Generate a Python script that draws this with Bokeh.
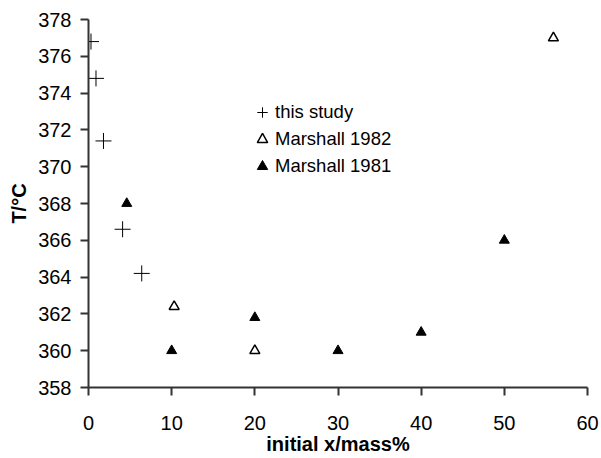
from bokeh.plotting import figure
from bokeh.models import Range1d, FixedTicker, Legend, LegendItem
from bokeh.embed import file_html
from bokeh.resources import INLINE

# data
study_x = [0.3, 0.9, 1.8, 4.1, 6.4]
study_y = [376.8, 374.8, 371.4, 366.6, 364.2]
m1982_x = [10.3, 20.0, 55.9]
m1982_y = [362.4, 360.0, 377.0]
m1981_x = [4.6, 10.0, 20.0, 30.0, 40.0, 50.0]
m1981_y = [368.0, 360.0, 361.8, 360.0, 361.0, 366.0]
x_ticks = [0, 10, 20, 30, 40, 50, 60]
y_ticks = [358, 360, 362, 364, 366, 368, 370, 372, 374, 376, 378]

FONT = "Liberation Sans"

p = figure(width=601, height=458, output_backend="svg", toolbar_location=None,
           x_range=Range1d(0, 60), y_range=Range1d(358, 378),
           min_border_left=88, min_border_right=14, min_border_top=19, min_border_bottom=71)
p.outline_line_color = None
p.background_fill_color = "white"
p.xgrid.visible = False
p.ygrid.visible = False

r_study = p.scatter(study_x, study_y, marker="cross", size=16, line_color="black", line_width=1)
r_82 = p.scatter(m1982_x, m1982_y, marker="triangle", size=10, fill_color="white",
                 line_color="black", line_width=1.5)
r_81 = p.scatter(m1981_x, m1981_y, marker="triangle", size=10, fill_color="black",
                 line_color="black", line_width=1)

for ax in (p.xaxis[0], p.yaxis[0]):
    ax.axis_line_color = "#333333"
    ax.axis_line_width = 2
    ax.major_tick_line_color = "#333333"
    ax.major_tick_line_width = 2
    ax.major_tick_out = 8
    ax.major_tick_in = 0
    ax.minor_tick_line_color = None
    ax.major_label_text_font = FONT
    ax.major_label_text_font_size = "20px"
    ax.major_label_text_color = "black"
    ax.axis_label_text_font = FONT
    ax.axis_label_text_font_size = "20px"
    ax.axis_label_text_font_style = "bold"
    ax.axis_label_text_color = "black"

p.xaxis.ticker = FixedTicker(ticks=x_ticks)
p.yaxis.ticker = FixedTicker(ticks=y_ticks)
p.xaxis.axis_label = "initial x/mass%"
p.yaxis.axis_label = "T/°C"
p.xaxis.major_label_standoff = 20
p.yaxis.major_label_standoff = 9
p.xaxis.axis_label_standoff = 0
p.yaxis.axis_label_standoff = 5

legend = Legend(items=[LegendItem(label="this study", renderers=[r_study]),
                       LegendItem(label="Marshall 1982", renderers=[r_82]),
                       LegendItem(label="Marshall 1981", renderers=[r_81])],
                location=(161, 208))
legend.border_line_color = None
legend.background_fill_alpha = 0
legend.padding = 0
legend.margin = 0
legend.glyph_width = 26
legend.glyph_height = 26
legend.label_height = 26
legend.spacing = 1
legend.label_standoff = 0
legend.label_text_font = FONT
legend.label_text_font_size = "18.5px"
legend.label_text_color = "black"
p.add_layout(legend, "center")

open("out.html", "w").write(file_html(p, INLINE))
